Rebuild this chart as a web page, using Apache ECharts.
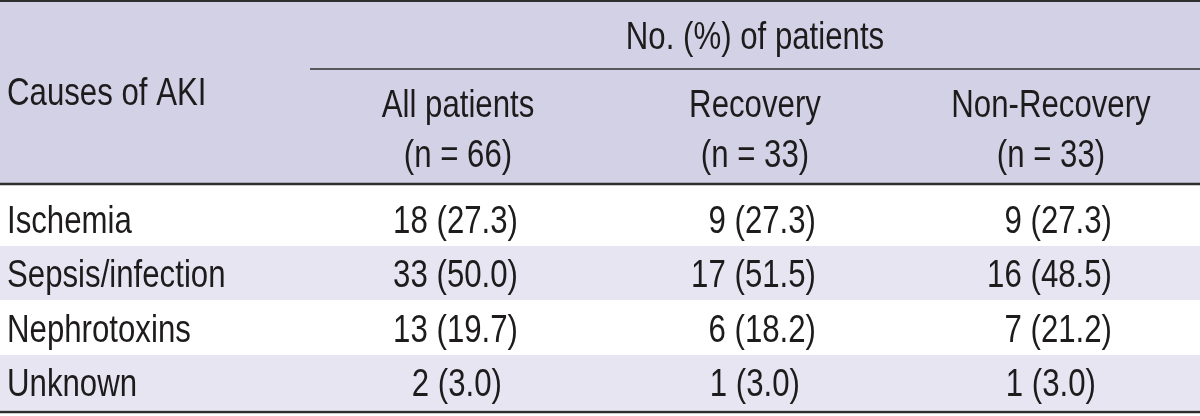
<!DOCTYPE html>
<html>
<head>
<meta charset="utf-8">
<script src="https://cdn.jsdelivr.net/npm/echarts@6/dist/echarts.min.js"></script>
<style>html,body{margin:0;padding:0;background:#fff;}#c{width:1200px;height:416px;}</style>
</head>
<body>
<div id="c"></div>
<script>
// ---- data ----
const stubTitle = 'Causes of AKI';
const groupTitle = 'No. (%) of patients';
const categories = ['Ischemia', 'Sepsis/infection', 'Nephrotoxins', 'Unknown'];
const columnNames = ['All patients', 'Recovery', 'Non-Recovery'];
const columnN = [66, 33, 33];
const allCounts = [18, 33, 13, 2];
const allPct = [27.3, 50.0, 19.7, 3.0];
const recCounts = [9, 17, 6, 1];
const recPct = [27.3, 51.5, 18.2, 3.0];
const nonCounts = [9, 16, 7, 1];
const nonPct = [27.3, 48.5, 21.2, 3.0];

// ---- layout (positions in layout units of the hidden axes) ----
const W = 1200, H = 416;
const FONT = '39px "Liberation Sans", Arimo, Helvetica, Arial, sans-serif';
const SCALE_X = 0.8;
const TXT = '#1e1b1c';
const HEAD_BG = '#d3d1e6';
const STRIPE = '#e6e5f1';
const LINE = '#2e2e2e';
const stubX = 7;
const colCenter = [458, 755, 1051];
const colRight = [518, 816, 1112];
const digitW = 16;
const headerBottom = 184;
const spanLineY = 69, spanLineX0 = 310;
const rowTop = [185, 246, 300, 355];
const rowBottom = [246, 300, 355, 410];
const dy = 3;
const rowMid = [219 + dy, 273.5 + dy, 328 + dy, 382.5 + dy];
const yGroup = 35 + dy, yStub = 91 + dy, yColName = 103 + dy, yColN = 153 + dy;

const counts = [allCounts, recCounts, nonCounts];
const pcts = [allPct, recPct, nonPct];

// decoration items: [kind, index]
const deco = [];
deco.push(['headbg', 0]);
categories.forEach((c, i) => { if (i % 2 === 1) deco.push(['stripe', i]); });
deco.push(['topline', 0]);
deco.push(['spanline', 0]);
deco.push(['headline', 0]);
deco.push(['bottomline', 0]);

// text cells: [kind, col, row]
const cells = [];
cells.push(['stub', 0, 0]);
cells.push(['group', 0, 0]);
columnNames.forEach((n, j) => { cells.push(['colname', j, 0]); cells.push(['coln', j, 0]); });
categories.forEach((c, i) => {
  cells.push(['cat', 0, i]);
  counts.forEach((arr, j) => cells.push(['val', j, i]));
});

function P(api, x, y) { return api.coord([x, y]); }

const chart = echarts.init(document.getElementById('c'), null, {renderer: 'canvas'});
chart.setOption({
  animation: false,
  backgroundColor: '#ffffff',
  grid: {left: 0, right: 0, top: 0, bottom: 0},
  xAxis: {type: 'value', min: 0, max: W, show: false},
  yAxis: {type: 'value', min: 0, max: H, inverse: true, show: false},
  series: [
    {
      type: 'custom',
      silent: true,
      data: deco.map((d, i) => [i]),
      renderItem: function (params, api) {
        const d = deco[params.dataIndex];
        const kind = d[0];
        if (kind === 'headbg' || kind === 'stripe') {
          const y0 = kind === 'headbg' ? 0 : rowTop[d[1]];
          const y1 = kind === 'headbg' ? headerBottom : rowBottom[d[1]];
          const a = P(api, 0, y0), b = P(api, W, y1);
          return {type: 'rect', shape: {x: a[0], y: a[1], width: b[0] - a[0], height: b[1] - a[1]}, style: {fill: kind === 'headbg' ? HEAD_BG : STRIPE}};
        }
        let x0 = 0, y = 0, lw = 2;
        if (kind === 'topline') { y = 1; lw = 2; }
        if (kind === 'spanline') { y = spanLineY; x0 = spanLineX0; lw = 1.6; }
        if (kind === 'headline') { y = headerBottom; lw = 2.4; }
        if (kind === 'bottomline') { y = 412; lw = 2.4; }
        const a = P(api, x0, y), b = P(api, W, y);
        return {type: 'line', shape: {x1: a[0], y1: a[1], x2: b[0], y2: b[1]}, style: {stroke: LINE, lineWidth: lw}};
      }
    },
    {
      type: 'custom',
      silent: true,
      data: cells.map((c, i) => [i]),
      renderItem: function (params, api) {
        const c = cells[params.dataIndex];
        const kind = c[0], j = c[1], i = c[2];
        let x, y, text, align = 'center';
        if (kind === 'stub') { x = stubX; y = yStub; text = stubTitle; align = 'left'; }
        else if (kind === 'group') { x = colCenter[1]; y = yGroup; text = groupTitle; }
        else if (kind === 'colname') { x = colCenter[j]; y = yColName; text = columnNames[j]; }
        else if (kind === 'coln') { x = colCenter[j]; y = yColN; text = '(n = ' + columnN[j] + ')'; }
        else if (kind === 'cat') { x = stubX; y = rowMid[i]; text = categories[i]; align = 'left'; }
        else {
          const p = pcts[j][i];
          text = counts[j][i] + ' (' + p.toFixed(1) + ')';
          x = colRight[j] - (p < 10 ? digitW : 0);
          y = rowMid[i];
          align = 'right';
        }
        const pt = P(api, x, y);
        return {type: 'text', x: pt[0], y: pt[1], scaleX: SCALE_X, scaleY: 1,
          style: {text: text, font: FONT, fill: TXT, align: align, verticalAlign: 'middle'}};
      }
    }
  ]
});
</script>
</body>
</html>
